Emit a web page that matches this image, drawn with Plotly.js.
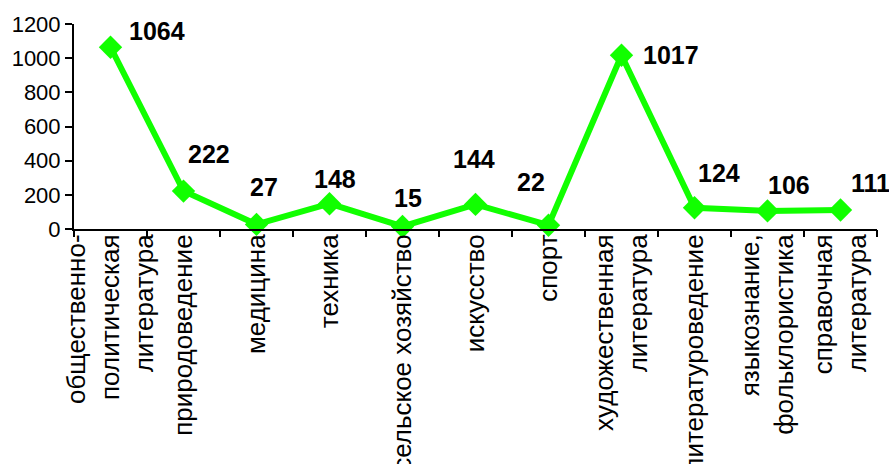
<!DOCTYPE html>
<html>
<head>
<meta charset="utf-8">
<script src="https://cdn.plot.ly/plotly-3.0.1.min.js"></script>
<style>html,body{margin:0;padding:0;background:#fff;}#chart{width:889px;height:464px;}</style>
</head>
<body>
<div id="chart"></div>
<script>
// ---- data ----
var categories = [
  'общественно-<br>политическая<br>литература',
  'природоведение',
  'медицина',
  'техника',
  'сельское хозяйство',
  'искусство',
  'спорт',
  'художественная<br>литература',
  'литературоведение',
  'языкознание,<br>фольклористика',
  'справочная<br>литература'
];
var values = [1064, 222, 27, 148, 15, 144, 22, 1017, 124, 106, 111];
var yTicks = [0, 200, 400, 600, 800, 1000, 1200];

// ---- label placement (pixel offsets from each point, style only) ----
var labelDX = [46, 25, 7, 5, 5, -2, -18, 49, 24, 21, 30];
var labelDY = [16, 37, 37, 25, 28, 45, 43, 0, 35, 26, 27];

var idx = categories.map(function(_, i){ return i; });

var trace = {
  type: 'scatter',
  mode: 'lines+markers',
  x: idx,
  y: values,
  line: {color: '#11ff00', width: 6},
  marker: {symbol: 'diamond', size: 18, color: '#11ff00'},
  cliponaxis: false,
  hoverinfo: 'skip'
};

var annotations = values.map(function(v, i){
  return {
    x: i, y: v, xref: 'x', yref: 'y',
    text: '<b>' + String(v) + '</b>', showarrow: false,
    xanchor: 'center', yanchor: 'middle',
    xshift: labelDX[i], yshift: labelDY[i],
    font: {family: 'Liberation Sans, Arial, sans-serif', size: 25, color: '#000'}
  };
});

var layout = {
  width: 889, height: 464,
  margin: {l: 74, r: 12, t: 24, b: 235, pad: 0},
  paper_bgcolor: '#fff', plot_bgcolor: '#fff',
  showlegend: false,
  font: {family: 'Liberation Sans, Arial, sans-serif', color: '#000'},
  xaxis: {
    type: 'linear',
    range: [-0.5, 10.5],
    tickmode: 'array',
    tickvals: idx,
    ticktext: categories,
    tickangle: -90,
    ticks: '',
    ticklabelstandoff: -7,
    showline: true, linecolor: '#000', linewidth: 2,
    showgrid: false, zeroline: false,
    tickfont: {size: 26, color: '#000'},
    automargin: false
  },
  xaxis2: {
    overlaying: 'x', matches: 'x', anchor: 'y',
    range: [-0.5, 10.5],
    tickmode: 'linear', tick0: -0.5, dtick: 1,
    ticks: 'outside', ticklen: 7, tickwidth: 2, tickcolor: '#000',
    showticklabels: false, showgrid: false, zeroline: false, showline: false
  },
  yaxis: {
    range: [0, 1200],
    tickmode: 'array', tickvals: yTicks,
    ticks: 'outside', ticklen: 7, tickwidth: 2, tickcolor: '#000',
    showline: true, linecolor: '#000', linewidth: 2,
    showgrid: false, zeroline: false,
    tickfont: {size: 22, color: '#000'},
    automargin: false
  },
  annotations: annotations
};

var dummy = {type: 'scatter', x: [0], y: [0], xaxis: 'x2', mode: 'markers', marker: {opacity: 0}, hoverinfo: 'skip'};

Plotly.newPlot('chart', [dummy, trace], layout, {staticPlot: true, displayModeBar: false});
</script>
</body>
</html>
